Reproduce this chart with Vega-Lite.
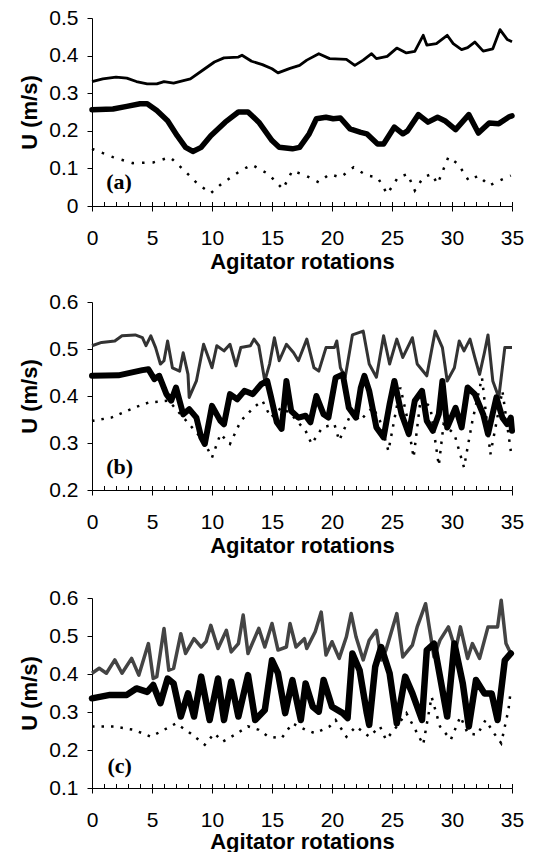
{
  "$schema": "https://vega.github.io/schema/vega-lite/v6.json",
  "background": "white",
  "padding": {"left": 18, "top": 7, "right": 5, "bottom": 0},
  "config": {
    "view": {"stroke": null},
    "font": "Liberation Sans",
    "axis": {"domainColor": "black", "tickColor": "black", "labelColor": "black", "titleColor": "black", "labelFont": "Liberation Sans", "titleFont": "Liberation Sans", "labelFontSize": 21, "titleFontSize": 22, "titleFontWeight": "bold", "grid": false, "tickWidth": 1, "domainWidth": 1}
  },
  "datasets": {
    "a": [
      {"s":"t","r":0,"v":0.331},{"s":"t","r":0.9,"v":0.338},{"s":"t","r":2,"v":0.343},{"s":"t","r":2.9,"v":0.340},{"s":"t","r":3.7,"v":0.331},{"s":"t","r":4.6,"v":0.325},{"s":"t","r":5.4,"v":0.325},{"s":"t","r":6,"v":0.331},{"s":"t","r":6.8,"v":0.327},{"s":"t","r":7.7,"v":0.334},{"s":"t","r":8.2,"v":0.338},{"s":"t","r":9.4,"v":0.365},{"s":"t","r":10.2,"v":0.383},{"s":"t","r":11,"v":0.394},{"s":"t","r":12.2,"v":0.396},{"s":"t","r":12.5,"v":0.401},{"s":"t","r":13.3,"v":0.385},{"s":"t","r":14.2,"v":0.376},{"s":"t","r":15,"v":0.365},{"s":"t","r":15.5,"v":0.354},{"s":"t","r":16.5,"v":0.366},{"s":"t","r":17.3,"v":0.374},{"s":"t","r":17.9,"v":0.388},{"s":"t","r":18.9,"v":0.405},{"s":"t","r":19.8,"v":0.392},{"s":"t","r":21.2,"v":0.390},{"s":"t","r":21.9,"v":0.374},{"s":"t","r":22.6,"v":0.388},{"s":"t","r":23.3,"v":0.405},{"s":"t","r":23.7,"v":0.392},{"s":"t","r":24.6,"v":0.398},{"s":"t","r":25.4,"v":0.420},{"s":"t","r":26.2,"v":0.407},{"s":"t","r":26.9,"v":0.411},{"s":"t","r":27.6,"v":0.454},{"s":"t","r":27.9,"v":0.428},{"s":"t","r":28.7,"v":0.432},{"s":"t","r":29.6,"v":0.454},{"s":"t","r":30.1,"v":0.432},{"s":"t","r":30.8,"v":0.416},{"s":"t","r":31.3,"v":0.421},{"s":"t","r":31.9,"v":0.436},{"s":"t","r":32.6,"v":0.412},{"s":"t","r":33.4,"v":0.418},{"s":"t","r":34,"v":0.469},{"s":"t","r":34.6,"v":0.443},{"s":"t","r":35,"v":0.437},
      {"s":"k","r":0,"v":0.256},{"s":"k","r":1.75,"v":0.258},{"s":"k","r":2.9,"v":0.265},{"s":"k","r":4,"v":0.272},{"s":"k","r":4.6,"v":0.272},{"s":"k","r":5.4,"v":0.254},{"s":"k","r":6.3,"v":0.227},{"s":"k","r":7.1,"v":0.187},{"s":"k","r":7.8,"v":0.156},{"s":"k","r":8.4,"v":0.145},{"s":"k","r":9.1,"v":0.156},{"s":"k","r":9.9,"v":0.187},{"s":"k","r":11.1,"v":0.223},{"s":"k","r":12.2,"v":0.25},{"s":"k","r":13,"v":0.25},{"s":"k","r":13.9,"v":0.223},{"s":"k","r":15,"v":0.174},{"s":"k","r":15.6,"v":0.156},{"s":"k","r":16.7,"v":0.152},{"s":"k","r":17.3,"v":0.156},{"s":"k","r":18.1,"v":0.192},{"s":"k","r":18.7,"v":0.232},{"s":"k","r":19.5,"v":0.236},{"s":"k","r":20.1,"v":0.232},{"s":"k","r":20.7,"v":0.234},{"s":"k","r":21.5,"v":0.205},{"s":"k","r":22.4,"v":0.196},{"s":"k","r":22.9,"v":0.192},{"s":"k","r":23.8,"v":0.165},{"s":"k","r":24.3,"v":0.165},{"s":"k","r":25.2,"v":0.21},{"s":"k","r":25.9,"v":0.192},{"s":"k","r":26.3,"v":0.2},{"s":"k","r":27.2,"v":0.243},{"s":"k","r":28,"v":0.223},{"s":"k","r":28.8,"v":0.236},{"s":"k","r":29.4,"v":0.227},{"s":"k","r":30.3,"v":0.203},{"s":"k","r":31.4,"v":0.243},{"s":"k","r":32.2,"v":0.194},{"s":"k","r":33.1,"v":0.221},{"s":"k","r":33.9,"v":0.219},{"s":"k","r":34.8,"v":0.238},{"s":"k","r":35,"v":0.24},
      {"s":"d","r":0,"v":0.152},{"s":"d","r":1.75,"v":0.13},{"s":"d","r":3.4,"v":0.114},{"s":"d","r":5.1,"v":0.116},{"s":"d","r":6.5,"v":0.13},{"s":"d","r":7.7,"v":0.094},{"s":"d","r":8.8,"v":0.059},{"s":"d","r":9.9,"v":0.034},{"s":"d","r":10.8,"v":0.059},{"s":"d","r":12.2,"v":0.09},{"s":"d","r":13.3,"v":0.11},{"s":"d","r":14.7,"v":0.085},{"s":"d","r":15.9,"v":0.045},{"s":"d","r":16.7,"v":0.094},{"s":"d","r":17.8,"v":0.081},{"s":"d","r":18.9,"v":0.063},{"s":"d","r":19.8,"v":0.085},{"s":"d","r":20.7,"v":0.076},{"s":"d","r":21.8,"v":0.103},{"s":"d","r":22.9,"v":0.081},{"s":"d","r":23.8,"v":0.076},{"s":"d","r":24.6,"v":0.032},{"s":"d","r":25.5,"v":0.076},{"s":"d","r":26.3,"v":0.085},{"s":"d","r":26.9,"v":0.041},{"s":"d","r":27.6,"v":0.076},{"s":"d","r":28.3,"v":0.085},{"s":"d","r":28.8,"v":0.059},{"s":"d","r":29.7,"v":0.13},{"s":"d","r":30.5,"v":0.112},{"s":"d","r":31.4,"v":0.067},{"s":"d","r":32.2,"v":0.081},{"s":"d","r":33.1,"v":0.054},{"s":"d","r":33.9,"v":0.067},{"s":"d","r":34.9,"v":0.081}
    ],
    "b": [
      {"s":"t","r":0,"v":0.507},{"s":"t","r":0.8,"v":0.514},{"s":"t","r":1.9,"v":0.517},{"s":"t","r":2.5,"v":0.528},{"s":"t","r":3.6,"v":0.53},{"s":"t","r":4.2,"v":0.524},{"s":"t","r":4.5,"v":0.507},{"s":"t","r":4.9,"v":0.528},{"s":"t","r":5.3,"v":0.503},{"s":"t","r":5.7,"v":0.468},{"s":"t","r":6,"v":0.475},{"s":"t","r":6.3,"v":0.517},{"s":"t","r":6.7,"v":0.46},{"s":"t","r":7.3,"v":0.453},{"s":"t","r":7.6,"v":0.492},{"s":"t","r":8,"v":0.446},{"s":"t","r":8.1,"v":0.397},{"s":"t","r":8.7,"v":0.432},{"s":"t","r":9.3,"v":0.51},{"s":"t","r":9.7,"v":0.482},{"s":"t","r":10,"v":0.46},{"s":"t","r":10.4,"v":0.507},{"s":"t","r":11,"v":0.496},{"s":"t","r":11.5,"v":0.51},{"s":"t","r":12,"v":0.464},{"s":"t","r":12.4,"v":0.503},{"s":"t","r":13.2,"v":0.507},{"s":"t","r":13.5,"v":0.521},{"s":"t","r":13.9,"v":0.507},{"s":"t","r":14.4,"v":0.432},{"s":"t","r":14.8,"v":0.468},{"s":"t","r":15.2,"v":0.524},{"s":"t","r":15.6,"v":0.475},{"s":"t","r":16.2,"v":0.51},{"s":"t","r":16.8,"v":0.492},{"s":"t","r":17.2,"v":0.475},{"s":"t","r":17.9,"v":0.521},{"s":"t","r":18.5,"v":0.46},{"s":"t","r":18.9,"v":0.453},{"s":"t","r":19.5,"v":0.503},{"s":"t","r":20.2,"v":0.503},{"s":"t","r":20.4,"v":0.517},{"s":"t","r":20.7,"v":0.46},{"s":"t","r":21.1,"v":0.44},{"s":"t","r":21.7,"v":0.53},{"s":"t","r":22.6,"v":0.538},{"s":"t","r":23.1,"v":0.468},{"s":"t","r":23.7,"v":0.44},{"s":"t","r":24.3,"v":0.528},{"s":"t","r":24.8,"v":0.468},{"s":"t","r":25.4,"v":0.521},{"s":"t","r":25.9,"v":0.482},{"s":"t","r":26.7,"v":0.524},{"s":"t","r":27.1,"v":0.468},{"s":"t","r":27.9,"v":0.443},{"s":"t","r":28.6,"v":0.538},{"s":"t","r":29.2,"v":0.503},{"s":"t","r":29.6,"v":0.432},{"s":"t","r":30.2,"v":0.46},{"s":"t","r":30.6,"v":0.517},{"s":"t","r":31,"v":0.496},{"s":"t","r":31.5,"v":0.521},{"s":"t","r":31.9,"v":0.482},{"s":"t","r":32.3,"v":0.446},{"s":"t","r":32.7,"v":0.492},{"s":"t","r":33,"v":0.53},{"s":"t","r":33.4,"v":0.432},{"s":"t","r":33.9,"v":0.397},{"s":"t","r":34.4,"v":0.503},{"s":"t","r":35,"v":0.503},
      {"s":"k","r":0,"v":0.443},{"s":"k","r":2.2,"v":0.444},{"s":"k","r":4.2,"v":0.455},{"s":"k","r":4.7,"v":0.457},{"s":"k","r":5.2,"v":0.436},{"s":"k","r":5.6,"v":0.443},{"s":"k","r":6.2,"v":0.404},{"s":"k","r":6.6,"v":0.39},{"s":"k","r":7,"v":0.418},{"s":"k","r":7.6,"v":0.361},{"s":"k","r":8.1,"v":0.372},{"s":"k","r":8.7,"v":0.354},{"s":"k","r":9.1,"v":0.312},{"s":"k","r":9.4,"v":0.298},{"s":"k","r":10,"v":0.379},{"s":"k","r":10.7,"v":0.347},{"s":"k","r":11,"v":0.34},{"s":"k","r":11.5,"v":0.404},{"s":"k","r":12.1,"v":0.393},{"s":"k","r":12.7,"v":0.411},{"s":"k","r":13.4,"v":0.404},{"s":"k","r":14.1,"v":0.425},{"s":"k","r":14.6,"v":0.432},{"s":"k","r":14.9,"v":0.4},{"s":"k","r":15.4,"v":0.344},{"s":"k","r":15.8,"v":0.33},{"s":"k","r":16.2,"v":0.432},{"s":"k","r":16.6,"v":0.368},{"s":"k","r":17.2,"v":0.354},{"s":"k","r":17.8,"v":0.358},{"s":"k","r":18.2,"v":0.344},{"s":"k","r":18.7,"v":0.4},{"s":"k","r":19.3,"v":0.361},{"s":"k","r":19.7,"v":0.354},{"s":"k","r":20.3,"v":0.439},{"s":"k","r":20.9,"v":0.446},{"s":"k","r":21.4,"v":0.375},{"s":"k","r":22,"v":0.354},{"s":"k","r":22.4,"v":0.418},{"s":"k","r":22.7,"v":0.443},{"s":"k","r":23.1,"v":0.411},{"s":"k","r":23.7,"v":0.333},{"s":"k","r":24.3,"v":0.312},{"s":"k","r":24.8,"v":0.383},{"s":"k","r":25.2,"v":0.432},{"s":"k","r":25.8,"v":0.361},{"s":"k","r":26.4,"v":0.319},{"s":"k","r":26.9,"v":0.39},{"s":"k","r":27.5,"v":0.411},{"s":"k","r":27.9,"v":0.347},{"s":"k","r":28.4,"v":0.326},{"s":"k","r":28.9,"v":0.361},{"s":"k","r":29.2,"v":0.432},{"s":"k","r":29.6,"v":0.333},{"s":"k","r":30.3,"v":0.375},{"s":"k","r":30.8,"v":0.333},{"s":"k","r":31.3,"v":0.418},{"s":"k","r":31.9,"v":0.404},{"s":"k","r":32.6,"v":0.361},{"s":"k","r":33,"v":0.319},{"s":"k","r":33.7,"v":0.397},{"s":"k","r":34.2,"v":0.354},{"s":"k","r":34.6,"v":0.34},{"s":"k","r":34.9,"v":0.354},{"s":"k","r":35,"v":0.326},
      {"s":"d","r":0,"v":0.347},{"s":"d","r":1.6,"v":0.354},{"s":"d","r":3.6,"v":0.376},{"s":"d","r":4.7,"v":0.386},{"s":"d","r":6.4,"v":0.39},{"s":"d","r":7,"v":0.372},{"s":"d","r":8.1,"v":0.34},{"s":"d","r":9.3,"v":0.305},{"s":"d","r":10,"v":0.269},{"s":"d","r":10.7,"v":0.319},{"s":"d","r":11.5,"v":0.298},{"s":"d","r":12.4,"v":0.347},{"s":"d","r":13.5,"v":0.376},{"s":"d","r":14.2,"v":0.39},{"s":"d","r":14.9,"v":0.354},{"s":"d","r":15.8,"v":0.376},{"s":"d","r":16.6,"v":0.361},{"s":"d","r":17.8,"v":0.326},{"s":"d","r":18.3,"v":0.298},{"s":"d","r":19.2,"v":0.333},{"s":"d","r":20.2,"v":0.34},{"s":"d","r":20.6,"v":0.305},{"s":"d","r":21.7,"v":0.369},{"s":"d","r":22.3,"v":0.347},{"s":"d","r":23.4,"v":0.376},{"s":"d","r":24,"v":0.347},{"s":"d","r":24.7,"v":0.283},{"s":"d","r":25.7,"v":0.418},{"s":"d","r":26.2,"v":0.361},{"s":"d","r":26.8,"v":0.269},{"s":"d","r":27.4,"v":0.397},{"s":"d","r":28.2,"v":0.376},{"s":"d","r":28.9,"v":0.252},{"s":"d","r":29.3,"v":0.34},{"s":"d","r":30.2,"v":0.319},{"s":"d","r":31,"v":0.248},{"s":"d","r":31.7,"v":0.347},{"s":"d","r":32.5,"v":0.439},{"s":"d","r":33.2,"v":0.276},{"s":"d","r":34.2,"v":0.411},{"s":"d","r":34.9,"v":0.283}
    ],
    "c": [
      {"s":"t","r":0,"v":0.402},{"s":"t","r":0.6,"v":0.415},{"s":"t","r":1.2,"v":0.402},{"s":"t","r":1.9,"v":0.437},{"s":"t","r":2.5,"v":0.402},{"s":"t","r":3.3,"v":0.441},{"s":"t","r":3.9,"v":0.397},{"s":"t","r":4.7,"v":0.48},{"s":"t","r":5.1,"v":0.388},{"s":"t","r":5.4,"v":0.393},{"s":"t","r":6,"v":0.52},{"s":"t","r":6.4,"v":0.41},{"s":"t","r":6.8,"v":0.415},{"s":"t","r":7.4,"v":0.506},{"s":"t","r":7.8,"v":0.454},{"s":"t","r":8.5,"v":0.493},{"s":"t","r":9.1,"v":0.471},{"s":"t","r":9.5,"v":0.485},{"s":"t","r":9.9,"v":0.528},{"s":"t","r":10.5,"v":0.467},{"s":"t","r":11.2,"v":0.515},{"s":"t","r":11.6,"v":0.458},{"s":"t","r":12.2,"v":0.48},{"s":"t","r":12.6,"v":0.555},{"s":"t","r":13,"v":0.454},{"s":"t","r":13.9,"v":0.52},{"s":"t","r":14.4,"v":0.471},{"s":"t","r":15,"v":0.533},{"s":"t","r":15.5,"v":0.463},{"s":"t","r":16.2,"v":0.471},{"s":"t","r":16.5,"v":0.533},{"s":"t","r":17,"v":0.471},{"s":"t","r":17.7,"v":0.493},{"s":"t","r":17.9,"v":0.467},{"s":"t","r":18.6,"v":0.511},{"s":"t","r":19.1,"v":0.563},{"s":"t","r":19.5,"v":0.45},{"s":"t","r":20,"v":0.485},{"s":"t","r":20.6,"v":0.441},{"s":"t","r":21.2,"v":0.498},{"s":"t","r":21.6,"v":0.559},{"s":"t","r":22,"v":0.498},{"s":"t","r":22.6,"v":0.437},{"s":"t","r":23.1,"v":0.489},{"s":"t","r":23.7,"v":0.515},{"s":"t","r":24.1,"v":0.437},{"s":"t","r":24.5,"v":0.463},{"s":"t","r":25.4,"v":0.559},{"s":"t","r":25.9,"v":0.445},{"s":"t","r":26.7,"v":0.476},{"s":"t","r":27.1,"v":0.524},{"s":"t","r":27.8,"v":0.585},{"s":"t","r":28.1,"v":0.524},{"s":"t","r":28.5,"v":0.445},{"s":"t","r":29,"v":0.489},{"s":"t","r":29.7,"v":0.524},{"s":"t","r":30.3,"v":0.463},{"s":"t","r":30.7,"v":0.524},{"s":"t","r":31.3,"v":0.441},{"s":"t","r":31.7,"v":0.48},{"s":"t","r":32.3,"v":0.441},{"s":"t","r":33,"v":0.524},{"s":"t","r":33.8,"v":0.524},{"s":"t","r":34.1,"v":0.594},{"s":"t","r":34.5,"v":0.48},{"s":"t","r":34.9,"v":0.454},
      {"s":"k","r":0,"v":0.336},{"s":"k","r":1.5,"v":0.345},{"s":"k","r":2.9,"v":0.345},{"s":"k","r":3.7,"v":0.362},{"s":"k","r":4.6,"v":0.353},{"s":"k","r":5.1,"v":0.371},{"s":"k","r":5.7,"v":0.323},{"s":"k","r":6.3,"v":0.388},{"s":"k","r":6.8,"v":0.375},{"s":"k","r":7.4,"v":0.288},{"s":"k","r":8,"v":0.349},{"s":"k","r":8.5,"v":0.288},{"s":"k","r":9.1,"v":0.393},{"s":"k","r":9.8,"v":0.279},{"s":"k","r":10.5,"v":0.388},{"s":"k","r":11,"v":0.279},{"s":"k","r":11.6,"v":0.38},{"s":"k","r":12.2,"v":0.288},{"s":"k","r":13,"v":0.397},{"s":"k","r":13.6,"v":0.279},{"s":"k","r":14.4,"v":0.305},{"s":"k","r":15,"v":0.436},{"s":"k","r":15.5,"v":0.402},{"s":"k","r":16.1,"v":0.297},{"s":"k","r":16.7,"v":0.384},{"s":"k","r":17.4,"v":0.279},{"s":"k","r":17.8,"v":0.375},{"s":"k","r":18.4,"v":0.314},{"s":"k","r":18.9,"v":0.301},{"s":"k","r":19.3,"v":0.384},{"s":"k","r":20,"v":0.314},{"s":"k","r":20.9,"v":0.297},{"s":"k","r":21.3,"v":0.284},{"s":"k","r":21.7,"v":0.454},{"s":"k","r":22.3,"v":0.41},{"s":"k","r":22.9,"v":0.297},{"s":"k","r":23.1,"v":0.266},{"s":"k","r":23.6,"v":0.419},{"s":"k","r":24.1,"v":0.471},{"s":"k","r":24.8,"v":0.402},{"s":"k","r":25.4,"v":0.27},{"s":"k","r":26.1,"v":0.393},{"s":"k","r":26.7,"v":0.349},{"s":"k","r":27.5,"v":0.279},{"s":"k","r":27.9,"v":0.463},{"s":"k","r":28.5,"v":0.48},{"s":"k","r":29,"v":0.393},{"s":"k","r":29.6,"v":0.288},{"s":"k","r":30.2,"v":0.48},{"s":"k","r":30.9,"v":0.375},{"s":"k","r":31.4,"v":0.262},{"s":"k","r":32,"v":0.384},{"s":"k","r":32.7,"v":0.349},{"s":"k","r":33.3,"v":0.349},{"s":"k","r":33.8,"v":0.279},{"s":"k","r":34.4,"v":0.436},{"s":"k","r":34.9,"v":0.454},
      {"s":"d","r":0,"v":0.262},{"s":"d","r":1.8,"v":0.262},{"s":"d","r":3.5,"v":0.253},{"s":"d","r":4.9,"v":0.235},{"s":"d","r":6,"v":0.253},{"s":"d","r":7,"v":0.27},{"s":"d","r":8.2,"v":0.244},{"s":"d","r":9.4,"v":0.214},{"s":"d","r":10.2,"v":0.244},{"s":"d","r":10.9,"v":0.222},{"s":"d","r":11.9,"v":0.24},{"s":"d","r":13,"v":0.262},{"s":"d","r":13.9,"v":0.253},{"s":"d","r":14.7,"v":0.235},{"s":"d","r":15.8,"v":0.231},{"s":"d","r":16.7,"v":0.27},{"s":"d","r":17.8,"v":0.253},{"s":"d","r":18.6,"v":0.244},{"s":"d","r":19.8,"v":0.262},{"s":"d","r":20.3,"v":0.279},{"s":"d","r":21.2,"v":0.235},{"s":"d","r":22,"v":0.262},{"s":"d","r":23.1,"v":0.235},{"s":"d","r":24,"v":0.262},{"s":"d","r":24.5,"v":0.227},{"s":"d","r":25.4,"v":0.262},{"s":"d","r":26.2,"v":0.297},{"s":"d","r":26.8,"v":0.262},{"s":"d","r":27.6,"v":0.214},{"s":"d","r":28.3,"v":0.34},{"s":"d","r":29,"v":0.262},{"s":"d","r":29.9,"v":0.227},{"s":"d","r":30.7,"v":0.288},{"s":"d","r":31.3,"v":0.244},{"s":"d","r":32.1,"v":0.24},{"s":"d","r":32.8,"v":0.279},{"s":"d","r":33.5,"v":0.244},{"s":"d","r":34.1,"v":0.218},{"s":"d","r":34.7,"v":0.305},{"s":"d","r":34.9,"v":0.358}
    ]
  },
  "vconcat": [
    {
      "spacing": 19,
      "vconcat": [
        {
          "width": 420, "height": 188,
          "data": {"name": "a"},
          "resolve": {"axis": {"x": "independent"}},
          "encoding": {"y": {"field": "v", "type": "quantitative", "scale": {"domain": [0, 0.5]}, "axis": {"values": [0,0.1,0.2,0.3,0.4,0.5], "format": "~g", "tickSize": 5, "labelPadding": 9, "title": "U (m/s)", "titlePadding": 7}}},
          "layer": [
            {"transform": [{"filter": "datum.s == 't'"}], "mark": {"type": "line", "color": "black", "strokeWidth": 2.8, "strokeJoin": "round"},
             "encoding": {"x": {"field": "r", "type": "quantitative", "scale": {"domain": [0, 35]}, "axis": {"values": [0,5,10,15,20,25,30,35], "tickSize": 5, "labelPadding": 16, "labelFlush": false, "title": "Agitator rotations", "titlePadding": 3}}}},
            {"transform": [{"filter": "datum.s == 'k'"}], "mark": {"type": "line", "color": "black", "strokeWidth": 5.5, "strokeJoin": "round", "strokeCap": "round"},
             "encoding": {"x": {"field": "r", "type": "quantitative", "axis": {"orient": "bottom", "values": [0,1,2,3,4,5,6,7,8,9,10,11,12,13,14,15,16,17,18,19,20,21,22,23,24,25,26,27,28,29,30,31,32,33,34,35], "tickSize": -4.5, "labels": false, "domain": false, "title": null}}}},
            {"transform": [{"filter": "datum.s == 'd'"}], "mark": {"type": "line", "color": "black", "strokeWidth": 2.5, "strokeDash": [2.5, 8]},
             "encoding": {"x": {"field": "r", "type": "quantitative", "axis": null}}},
            {"data": {"values": [{"r": 2.25, "v": 0.063, "t": "(a)"}]}, "mark": {"type": "text", "font": "Liberation Serif", "fontWeight": "bold", "fontSize": 22, "color": "black"},
             "encoding": {"x": {"field": "r", "type": "quantitative", "axis": null}, "text": {"field": "t"}}}
          ]
        },
        {
          "width": 420, "height": 188,
          "data": {"name": "b"},
          "resolve": {"axis": {"x": "independent"}},
          "encoding": {"y": {"field": "v", "type": "quantitative", "scale": {"domain": [0.2, 0.6]}, "axis": {"values": [0.2,0.3,0.4,0.5,0.6], "format": "~g", "tickSize": 5, "labelPadding": 9, "title": "U (m/s)", "titlePadding": 7}}},
          "layer": [
            {"transform": [{"filter": "datum.s == 't'"}], "mark": {"type": "line", "color": "#333", "strokeWidth": 3, "strokeJoin": "round"},
             "encoding": {"x": {"field": "r", "type": "quantitative", "scale": {"domain": [0, 35]}, "axis": {"values": [0,5,10,15,20,25,30,35], "tickSize": 5, "labelPadding": 16, "labelFlush": false, "title": "Agitator rotations", "titlePadding": 3}}}},
            {"transform": [{"filter": "datum.s == 'k'"}], "mark": {"type": "line", "color": "black", "strokeWidth": 6, "strokeJoin": "round", "strokeCap": "round"},
             "encoding": {"x": {"field": "r", "type": "quantitative", "axis": {"orient": "bottom", "values": [0,1,2,3,4,5,6,7,8,9,10,11,12,13,14,15,16,17,18,19,20,21,22,23,24,25,26,27,28,29,30,31,32,33,34,35], "tickSize": -4.5, "labels": false, "domain": false, "title": null}}}},
            {"transform": [{"filter": "datum.s == 'd'"}], "mark": {"type": "line", "color": "black", "strokeWidth": 2.5, "strokeDash": [2.5, 7]},
             "encoding": {"x": {"field": "r", "type": "quantitative", "axis": null}}},
            {"data": {"values": [{"r": 2.3, "v": 0.249, "t": "(b)"}]}, "mark": {"type": "text", "font": "Liberation Serif", "fontWeight": "bold", "fontSize": 22, "color": "black"},
             "encoding": {"x": {"field": "r", "type": "quantitative", "axis": null}, "text": {"field": "t"}}}
          ]
        }
      ]
    },
    {
      "width": 420, "height": 190,
      "data": {"name": "c"},
      "resolve": {"axis": {"x": "independent"}},
      "encoding": {"y": {"field": "v", "type": "quantitative", "scale": {"domain": [0.1, 0.6]}, "axis": {"values": [0.1,0.2,0.3,0.4,0.5,0.6], "format": "~g", "tickSize": 5, "labelPadding": 9, "title": "U (m/s)", "titlePadding": 7}}},
      "layer": [
        {"transform": [{"filter": "datum.s == 't'"}], "mark": {"type": "line", "color": "#444", "strokeWidth": 3.5, "strokeJoin": "round"},
         "encoding": {"x": {"field": "r", "type": "quantitative", "scale": {"domain": [0, 35]}, "axis": {"values": [0,5,10,15,20,25,30,35], "tickSize": 5, "labelPadding": 16, "labelFlush": false, "title": "Agitator rotations", "titlePadding": 1}}}},
        {"transform": [{"filter": "datum.s == 'k'"}], "mark": {"type": "line", "color": "black", "strokeWidth": 6.5, "strokeJoin": "round", "strokeCap": "round"},
         "encoding": {"x": {"field": "r", "type": "quantitative", "axis": {"orient": "bottom", "values": [0,1,2,3,4,5,6,7,8,9,10,11,12,13,14,15,16,17,18,19,20,21,22,23,24,25,26,27,28,29,30,31,32,33,34,35], "tickSize": -4.5, "labels": false, "domain": false, "title": null}}}},
        {"transform": [{"filter": "datum.s == 'd'"}], "mark": {"type": "line", "color": "black", "strokeWidth": 2.5, "strokeDash": [2.5, 7]},
         "encoding": {"x": {"field": "r", "type": "quantitative", "axis": null}}},
        {"data": {"values": [{"r": 2.3, "v": 0.159, "t": "(c)"}]}, "mark": {"type": "text", "font": "Liberation Serif", "fontWeight": "bold", "fontSize": 22, "color": "black"},
         "encoding": {"x": {"field": "r", "type": "quantitative", "axis": null}, "text": {"field": "t"}}}
      ]
    }
  ],
  "spacing": 31
}
